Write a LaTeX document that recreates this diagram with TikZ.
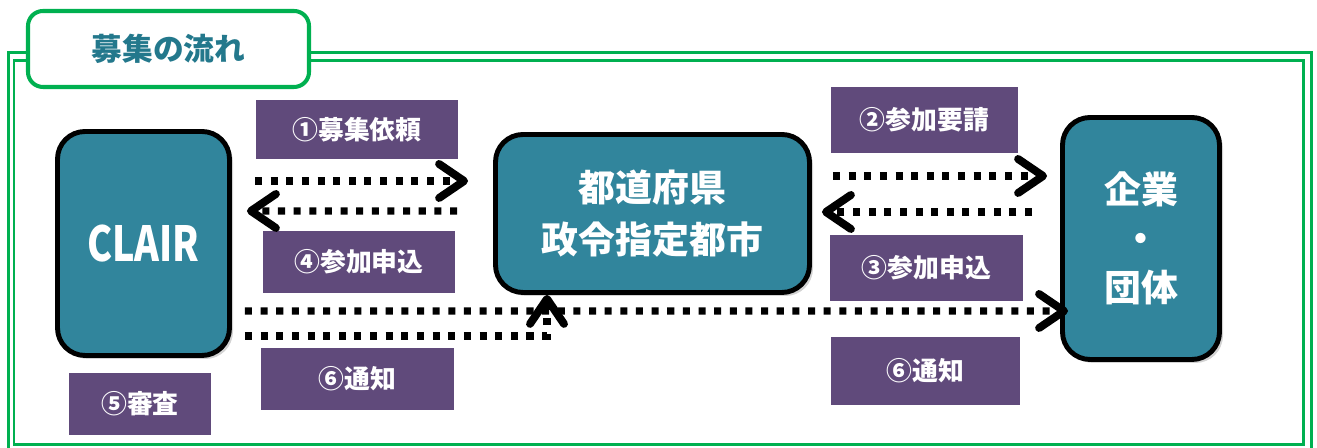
\documentclass[tikz,border=0pt]{standalone}
\usepackage{fontspec}
\setmainfont{Noto Sans CJK JP}
\usetikzlibrary{arrows.meta, shadows}
\definecolor{frameGreen}{HTML}{00B050}
\definecolor{boxTeal}{HTML}{31859C}
\definecolor{tagPurple}{HTML}{604A7B}
\definecolor{titleTeal}{HTML}{23788C}

\begin{document}
\begin{tikzpicture}[
    box/.style={draw=black, line width=2.8pt, fill=boxTeal, rounded corners=0.55cm, text=white,
      font=\bfseries\fontsize{21}{30}\selectfont, align=center, inner sep=0pt,
      drop shadow={shadow xshift=0.07cm, shadow yshift=-0.07cm, opacity=0.35}},
    tag/.style={fill=tagPurple, text=white, font=\bfseries\fontsize{14.7}{18}\selectfont, inner sep=0pt},
    flow/.style={line width=4pt, dash pattern=on 4pt off 4.9pt,
      -{Straight Barb[length=0.5cm, width=0.68cm, line width=4.5pt, round]}}
  ]
  \useasboundingbox (0,0) rectangle (26.34,8.96);
  % Frame
  \draw[frameGreen, line width=0.06cm] (0.16,-0.08) rectangle (26.22,7.9);
  \draw[frameGreen, line width=0.06cm] (0.28,0.06) rectangle (26.06,7.74);
  % Title tab
  \node[draw=frameGreen, line width=2.3pt, fill=white, rounded corners=0.3cm, minimum width=5.62cm,
    minimum height=1.52cm, text=titleTeal, font=\bfseries\fontsize{17.5}{20}\selectfont] (title) at (3.37,7.98) {募集の流れ};
  % Boxes
  \node[box, minimum width=3.44cm, minimum height=4.48cm, font=\bfseries\fontsize{27.5}{30}\selectfont] (clair) at (2.87,4.09) {\scalebox{0.78}[1]{CLAIR}};
  \node[box, minimum width=6.28cm, minimum height=3.16cm] (pref) at (13.05,4.69) {都道府県\\政令指定都市};
  \node[box, minimum width=3.14cm, minimum height=4.84cm, font=\bfseries\fontsize{21}{28}\selectfont] (corp) at (22.82,4.19) {企業\\・\\団体};
  % Labels
  \node[tag, minimum width=4.04cm, minimum height=1.18cm] (ask) at (7.14,6.37) {①募集依頼};
  \node[tag, minimum width=3.74cm, minimum height=1.32cm] (invite) at (18.49,6.56) {②参加要請};
  \node[tag, minimum width=3.86cm, minimum height=1.32cm] (applyB) at (18.53,3.6) {③参加申込};
  \node[tag, minimum width=3.84cm, minimum height=1.24cm] (applyA) at (7.18,3.72) {④参加申込};
  \node[tag, minimum width=2.84cm, minimum height=1.24cm] (review) at (2.8,0.88) {⑤審査};
  \node[tag, minimum width=3.86cm, minimum height=1.24cm] (noticeA) at (7.15,1.38) {⑥通知};
  \node[tag, minimum width=3.78cm, minimum height=1.36cm] (noticeB) at (18.51,1.54) {⑥通知};
  % Arrows
  \draw[flow] ([xshift=0.46cm, yshift=1.25cm]clair.east) -- ([xshift=-0.5cm, yshift=0.65cm]pref.west);
  \draw[flow] ([xshift=-0.72cm, yshift=0.05cm]pref.west) -- ([xshift=0.3cm, yshift=0.65cm]clair.east);
  \draw[flow] ([xshift=0.42cm, yshift=0.75cm]pref.east) -- ([xshift=-0.26cm, yshift=1.25cm]corp.west);
  \draw[flow] ([xshift=-0.56cm, yshift=0.53cm]corp.west) -- ([xshift=0.2cm, yshift=0.03cm]pref.east);
  % Notice
  \draw[flow] ([xshift=0.26cm, yshift=-1.35cm]clair.east) -- ([xshift=0.16cm, yshift=-1.45cm]corp.west);
  \draw[flow] ([xshift=0.26cm, yshift=-1.85cm]clair.east) -| ([xshift=-2.11cm]pref.south);
\end{tikzpicture}
\end{document}
